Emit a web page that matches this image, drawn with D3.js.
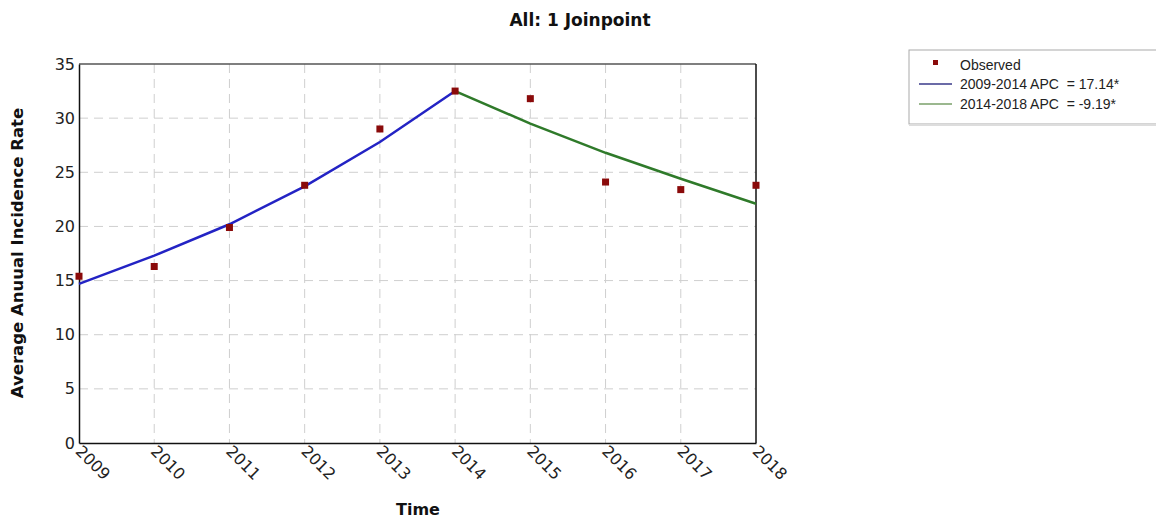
<!DOCTYPE html>
<html>
<head>
<meta charset="utf-8">
<script src="https://cdn.jsdelivr.net/npm/d3@7"></script>
<style>
  body { margin: 0; background: #fff; }
  svg { display: block; }
</style>
</head>
<body>
<svg id="chart" width="1156" height="519"></svg>
<script>
const years = [2009, 2010, 2011, 2012, 2013, 2014, 2015, 2016, 2017, 2018]
const observed = [15.4, 16.3, 19.9, 23.8, 29.0, 32.5, 31.8, 24.1, 23.4, 23.8]
const seg1Years = [2009, 2010, 2011, 2012, 2013, 2014]
const seg1Fit = [14.7, 17.3, 20.2, 23.7, 27.8, 32.5]
const seg2Years = [2014, 2015, 2016, 2017, 2018]
const seg2Fit = [32.5, 29.5, 26.8, 24.4, 22.1]
const yTicks = [0, 5, 10, 15, 20, 25, 30, 35]
const legendLabels = ['Observed', '2009-2014 APC  = 17.14*', '2014-2018 APC  = -9.19*']

const svg = d3.select('#chart')
const margin = { left: 79, right: 756, top: 64, bottom: 443 }

const x = d3.scaleLinear().domain([2009, 2018]).range([margin.left, margin.right])
const y = d3.scaleLinear().domain([0, 35]).range([margin.bottom, margin.top])

// grid
const grid = svg.append('g').attr('stroke', '#cfcfcf').attr('stroke-dasharray', '9,6').attr('stroke-width', 1)
grid.selectAll('line.v').data(years.slice(1, -1)).enter().append('line')
  .attr('x1', (d) => x(d)).attr('x2', (d) => x(d))
  .attr('y1', margin.top).attr('y2', margin.bottom)
grid.selectAll('line.h').data(yTicks.slice(1, -1)).enter().append('line')
  .attr('x1', margin.left).attr('x2', margin.right)
  .attr('y1', (d) => y(d)).attr('y2', (d) => y(d))

// frame
svg.append('line').attr('x1', margin.left).attr('x2', margin.right)
  .attr('y1', margin.top).attr('y2', margin.top).attr('stroke', '#555').attr('stroke-width', 1.5)
svg.append('line').attr('x1', margin.right).attr('x2', margin.right)
  .attr('y1', margin.top).attr('y2', margin.bottom).attr('stroke', '#111').attr('stroke-width', 1.5)

// axes
const yAxis = svg.append('g')
  .attr('transform', `translate(${margin.left},0)`)
  .call(d3.axisLeft(y).tickValues(yTicks).tickSize(0).tickPadding(4))
yAxis.select('.domain').attr('stroke', '#111').attr('stroke-width', 1.5)
yAxis.selectAll('text')
  .attr('font-family', 'DejaVu Sans, Verdana, sans-serif')
  .attr('font-size', 16).attr('fill', '#222')

const xAxis = svg.append('g')
  .attr('transform', `translate(0,${margin.bottom})`)
  .call(d3.axisBottom(x).tickValues(years).tickFormat(d3.format('d')).tickSize(0))
xAxis.select('.domain').attr('stroke', '#111').attr('stroke-width', 1.5)
xAxis.selectAll('text')
  .attr('font-family', 'DejaVu Sans, Verdana, sans-serif')
  .attr('font-size', 16).attr('fill', '#222')
  .attr('text-anchor', 'start')
  .attr('dy', '0.75em')
  .attr('y', -2)
  .attr('x', 3)
  .attr('transform', 'rotate(45)')

// fitted lines
const line = d3.line().x((d) => x(d[0])).y((d) => y(d[1]))
svg.append('path')
  .datum(d3.zip(seg1Years, seg1Fit))
  .attr('d', line).attr('fill', 'none')
  .attr('stroke', '#2323c4').attr('stroke-width', 2.5)
svg.append('path')
  .datum(d3.zip(seg2Years, seg2Fit))
  .attr('d', line).attr('fill', 'none')
  .attr('stroke', '#2f7a2a').attr('stroke-width', 2.5)

// observed points
svg.append('g').selectAll('rect').data(d3.zip(years, observed)).enter().append('rect')
  .attr('x', (d) => x(d[0]) - 3.5).attr('y', (d) => y(d[1]) - 3.5)
  .attr('width', 7).attr('height', 7).attr('fill', '#8a0a0a')

// titles
svg.append('text').attr('x', 580).attr('y', 26).attr('text-anchor', 'middle')
  .attr('font-family', 'DejaVu Sans, Verdana, sans-serif').attr('font-weight', 'bold')
  .attr('font-size', 17).attr('fill', '#111').text('All: 1 Joinpoint')
svg.append('text').attr('x', 418).attr('y', 515).attr('text-anchor', 'middle')
  .attr('font-family', 'DejaVu Sans, Verdana, sans-serif').attr('font-weight', 'bold')
  .attr('font-size', 16).attr('fill', '#111').text('Time')
svg.append('text').attr('transform', 'translate(23,253) rotate(-90)').attr('text-anchor', 'middle')
  .attr('font-family', 'DejaVu Sans, Verdana, sans-serif').attr('font-weight', 'bold')
  .attr('font-size', 16.5).attr('fill', '#111').text('Average Anuual Incidence Rate')

// legend
const lg = svg.append('g')
lg.append('rect').attr('x', 909).attr('y', 50).attr('width', 260).attr('height', 74)
  .attr('fill', '#fff').attr('stroke', '#aaa').attr('stroke-width', 1)
lg.append('line').attr('x1', 909).attr('x2', 1156).attr('y1', 125).attr('y2', 125)
  .attr('stroke', '#ddd').attr('stroke-width', 2)
const legendY = [65, 84, 104]
lg.append('rect').attr('x', 933).attr('y', legendY[0] - 5).attr('width', 5).attr('height', 5).attr('fill', '#8a0a0a')
lg.append('line').attr('x1', 919).attr('x2', 952).attr('y1', legendY[1]).attr('y2', legendY[1])
  .attr('stroke', '#3a3a8a').attr('stroke-width', 1.5)
lg.append('line').attr('x1', 919).attr('x2', 952).attr('y1', legendY[2]).attr('y2', legendY[2])
  .attr('stroke', '#7aa06a').attr('stroke-width', 1.5)
lg.selectAll('text').data(legendLabels).enter().append('text')
  .attr('x', 960).attr('y', (d, i) => legendY[i] + 5)
  .attr('font-family', 'Liberation Sans, Arial, sans-serif').attr('font-size', 14)
  .attr('fill', '#222').attr('xml:space', 'preserve').style('white-space', 'pre').text((d) => d)
</script>
</body>
</html>
